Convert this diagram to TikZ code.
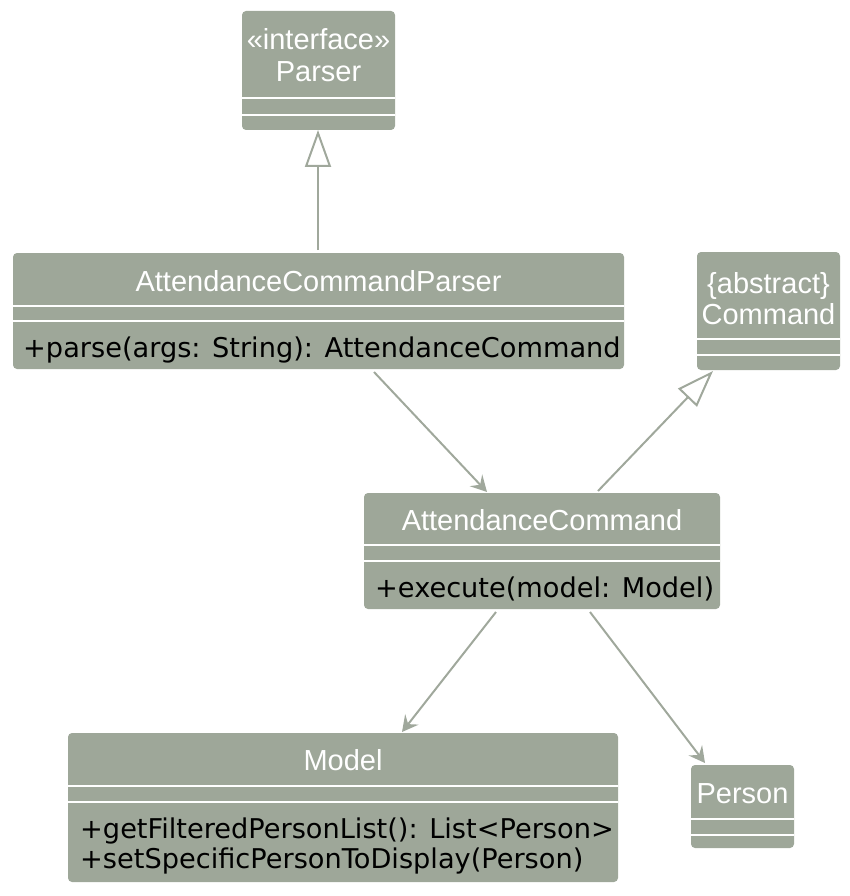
\documentclass[tikz,border=0pt]{standalone}
\usepackage{fontspec}
\setmainfont{Liberation Sans}
\newfontfamily\methfont{DejaVu Sans}
\usetikzlibrary{arrows.meta}
\definecolor{boxfill}{RGB}{158,167,153}
\definecolor{linec}{RGB}{160,168,156}
\tikzset{
  cls/.style={fill=boxfill, draw=none, rounded corners=4pt, inner sep=0pt},
  ttl/.style={text=white, font=\fontsize{29}{29}\selectfont, inner sep=0pt, anchor=base},
  meth/.style={text=black, font=\methfont\fontsize{27.2}{27.2}\selectfont, inner sep=0pt, anchor=base west},
  sep/.style={draw=white, line width=2pt},
  assoc/.style={draw=linec, line width=2pt, -{Stealth[length=16pt, width=17pt, inset=6pt]}},
  inherit/.style={draw=linec, line width=2pt, -{Triangle[open, fill=white, length=37pt, width=26pt]}},
}
\begin{document}
\begin{tikzpicture}[x=1pt, y=-1pt]
\useasboundingbox (0,0) rectangle (850,896);
% Parser
\node[cls, minimum width=153pt, minimum height=119pt] (parser) at (318.5,70.5) {};
\node[ttl] (parserT1) at (318.5,50) {«interface»};
\node[ttl] (parserT2) at (318.5,82) {Parser};
\draw[sep] (242,98) -- (395,98);
\draw[sep] (242,115) -- (395,115);
% AttendanceCommandParser
\node[cls, minimum width=611pt, minimum height=116pt] (acp) at (318.5,311) {};
\node[ttl] (acpT) at (318.5,291) {AttendanceCommandParser};
\draw[sep] (13,306) -- (624,306);
\draw[sep] (13,321) -- (624,321);
\node[meth] (acpM) at (23,357) {+parse(args: String): AttendanceCommand};
% Command
\node[cls, minimum width=143pt, minimum height=118pt] (cmd) at (768.5,311) {};
\node[ttl] (cmdT1) at (768.5,293) {\{abstract\}};
\node[ttl] (cmdT2) at (768.5,324) {Command};
\draw[sep] (697,339) -- (840,339);
\draw[sep] (697,355) -- (840,355);
% AttendanceCommand
\node[cls, minimum width=356pt, minimum height=116pt] (ac) at (542,551) {};
\node[ttl] (acT) at (542,530) {AttendanceCommand};
\draw[sep] (364,545) -- (720,545);
\draw[sep] (364,561) -- (720,561);
\node[meth] (acM) at (375,597) {+execute(model: Model)};
% Model
\node[cls, minimum width=550pt, minimum height=149pt] (model) at (343,807.5) {};
\node[ttl] (modelT) at (343,770) {Model};
\draw[sep] (68,786) -- (618,786);
\draw[sep] (68,802) -- (618,802);
\node[meth] (modelM1) at (80,838) {+getFilteredPersonList(): List<Person>};
\node[meth] (modelM2) at (80,868) {+setSpecificPersonToDisplay(Person)};
% Person
\node[cls, minimum width=103pt, minimum height=83pt] (person) at (742.5,806.5) {};
\node[ttl] (personT) at (742.5,803) {Person};
\draw[sep] (691,819) -- (794,819);
\draw[sep] (691,835) -- (794,835);
% connectors
\coordinate (a1) at (318,250);
\coordinate (a2) at (318,130);
\draw[inherit] (a1) -- (a2);
\coordinate (b1) at (374,372);
\coordinate (b2) at (487,492);
\draw[assoc] (b1) -- (b2);
\coordinate (c1) at (598,491);
\coordinate (c2) at (713,371);
\draw[inherit] (c1) -- (c2);
\coordinate (d1) at (496,612);
\coordinate (d2) at (402,732);
\draw[assoc] (d1) -- (d2);
\coordinate (e1) at (590,612);
\coordinate (e2) at (705,763);
\draw[assoc] (e1) -- (e2);
\end{tikzpicture}
\end{document}
